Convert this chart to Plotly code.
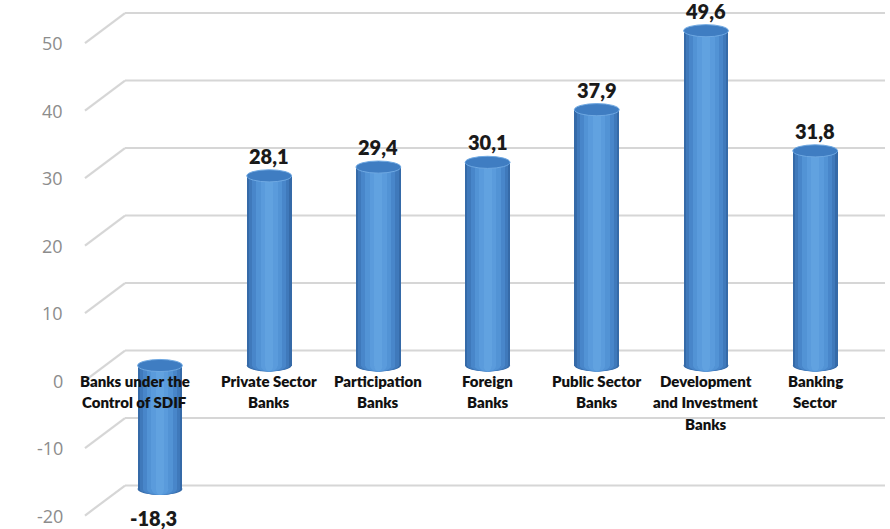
import plotly.graph_objects as go

# Return on equity by bank group (%)
categories = [
    "Banks under the<br>Control of SDIF",
    "Private Sector<br>Banks",
    "Participation<br>Banks",
    "Foreign<br>Banks",
    "Public Sector<br>Banks",
    "Development<br>and Investment<br>Banks",
    "Banking<br>Sector",
]
values = [-18.3, 28.1, 29.4, 30.1, 37.9, 49.6, 31.8]
y_ticks = [-20, -10, 0, 10, 20, 30, 40, 50]

# ---- geometry of the pseudo-3D frame -------------------------------------
W_PX, H_PX = 890, 529
Y_MIN, Y_MAX = -24.22, 54.15          # value axis (mid plane of the cylinders)
X_MIN, X_MAX = -1.465, 6.685          # category slots
PX_PER_UNIT = H_PX / (Y_MAX - Y_MIN)
DEPTH = 15 / PX_PER_UNIT               # half depth of the box, in value units
BAR_W = 0.41                           # cylinder diameter in category units
CAP_H = 0.9                            # half height of the elliptical caps

# shading strips for the cylinder body: (fraction of width, colour)
strips = [
    (1.00, "#356aa8"),
    (0.90, "#3f79bb"),
    (0.76, "#4886ca"),
    (0.58, "#5293d5"),
    (0.38, "#5a9bdc"),
    (0.18, "#61a2e0"),
]

fig = go.Figure()

x_idx = list(range(len(categories)))
tops = [max(v, 0) for v in values]
bottoms = [min(v, 0) for v in values]

for frac, col in strips:
    fig.add_trace(go.Bar(
        x=x_idx, y=values, base=0,
        width=BAR_W * frac,
        marker=dict(color=col, line=dict(width=0)),
        hoverinfo="skip", showlegend=False,
    ))

shapes = []

# gridlines: short diagonal from the front edge to the back wall, then across
gx_front, gx_back, gx_end = 85 / W_PX, 125 / W_PX, 885 / W_PX
for t in y_ticks:
    shapes.append(dict(type="line", xref="paper", yref="y",
                       x0=gx_front, y0=t - DEPTH, x1=gx_back, y1=t + DEPTH,
                       line=dict(color="#d6d6d6", width=2.2), layer="below"))
    shapes.append(dict(type="line", xref="paper", yref="y",
                       x0=gx_back, y0=t + DEPTH, x1=gx_end, y1=t + DEPTH,
                       line=dict(color="#d6d6d6", width=2.2), layer="below"))

# rounded bottoms of the cylinders (one ellipse per shading strip, behind the body)
for i, b in zip(x_idx, bottoms):
    for frac, col in strips:
        hw = BAR_W * frac / 2
        shapes.append(dict(type="circle", xref="x", yref="y",
                           x0=i - hw, x1=i + hw, y0=b - CAP_H, y1=b + CAP_H,
                           fillcolor=col, line=dict(width=0), layer="below"))

# top caps
for i, t in zip(x_idx, tops):
    hw = BAR_W / 2
    shapes.append(dict(type="circle", xref="x", yref="y",
                       x0=i - hw, x1=i + hw, y0=t - CAP_H, y1=t + CAP_H,
                       fillcolor="#3f7dc2", line=dict(color="#6ea8e2", width=1),
                       layer="above"))

annotations = []

# value-axis labels on the front edge
for t in y_ticks:
    annotations.append(dict(xref="paper", yref="y", x=65 / W_PX, y=t - DEPTH,
                            xanchor="right", yanchor="middle", showarrow=False,
                            text=str(t),
                            font=dict(family="Open Sans", size=18, color="#8c8c8c")))

# value labels
label_font = dict(family="Lato", size=20, color="#1a1a1a", weight=800)
for i, v, t, b in zip(x_idx, values, tops, bottoms):
    txt = f"{v:.1f}".replace(".", ",")
    if v < 0:
        annotations.append(dict(x=i - 0.06, y=b - CAP_H, yshift=-9, text=txt,
                                xanchor="center", yanchor="top", showarrow=False,
                                font=label_font))
    elif t + CAP_H + 3.2 > Y_MAX:
        # no room above the cylinder: put the label beside its top
        annotations.append(dict(x=i + BAR_W / 2, y=t, xshift=4, text=txt,
                                xanchor="left", yanchor="middle", showarrow=False,
                                font=label_font))
    else:
        annotations.append(dict(x=i, y=t + CAP_H, yshift=0, text=txt,
                                xanchor="center", yanchor="bottom", showarrow=False,
                                font=label_font))

# category labels, written line by line just under the zero level
cat_font = dict(family="Lato", size=15, color="#111111", weight=800)
for i, name in zip(x_idx, categories):
    shift = -25 if i == 0 else 0
    for k, line in enumerate(name.split("<br>")):
        annotations.append(dict(x=i, y=0 - DEPTH, xshift=shift, yshift=-21.5 * k,
                                text=line, xanchor="center",
                                yanchor="middle", showarrow=False, font=cat_font))

fig.update_layout(
    width=W_PX, height=H_PX,
    margin=dict(l=0, r=0, t=0, b=0),
    paper_bgcolor="white", plot_bgcolor="white",
    barmode="overlay", bargap=0,
    xaxis=dict(range=[X_MIN, X_MAX], visible=False, fixedrange=True),
    yaxis=dict(range=[Y_MIN, Y_MAX], visible=False, fixedrange=True),
    shapes=shapes, annotations=annotations,
    showlegend=False,
)

fig.write_html("out.html")
